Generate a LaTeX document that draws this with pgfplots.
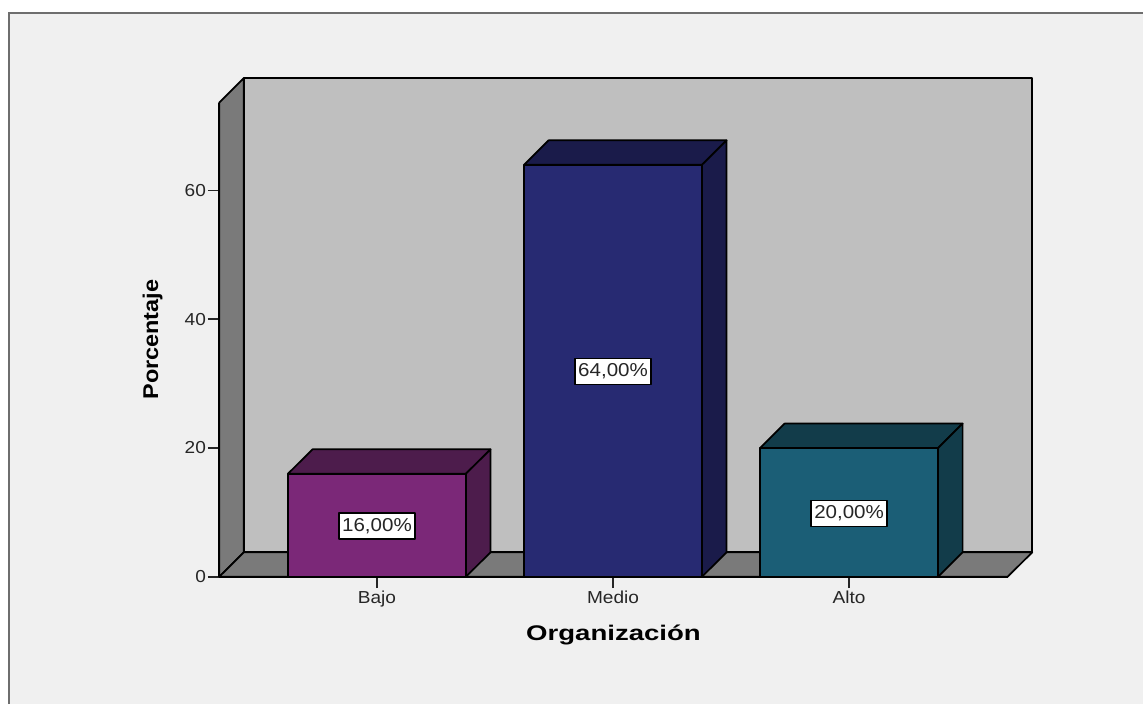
\documentclass[border=0pt]{standalone}
\usepackage{pgfplots}
\usepackage{fontspec}
\pgfplotsset{compat=1.18}
\setmainfont[FakeStretch=1.1]{Liberation Sans}
\newfontfamily\titlewide[FakeStretch=1.3]{Liberation Sans}
\definecolor{panel}{HTML}{F0F0F0}
\definecolor{frameline}{HTML}{6E6E6E}
\definecolor{backwall}{HTML}{BFBFBF}
\definecolor{sidewall}{HTML}{7A7A7A}
\definecolor{bajoF}{HTML}{7B2878}
\definecolor{bajoD}{HTML}{4D1C4C}
\definecolor{medioF}{HTML}{272A72}
\definecolor{medioD}{HTML}{1A1B4A}
\definecolor{altoF}{HTML}{1B5E76}
\definecolor{altoD}{HTML}{123C4A}
\begin{document}
\begin{tikzpicture}[x=0.75pt,y=0.75pt]
  % page background and the panel's frame
  \path[use as bounding box] (0,0) rectangle (1143,704);
  \fill[white] (0,0) rectangle (1143,704);
  \fill[panel] (8.5,0) rectangle (1143,690.5);
  \draw[frameline,line width=1.5pt] (8.5,0) -- (8.5,690.5) -- (1143,690.5);
  \begin{axis}[
    at={(164.475pt,95.475pt)}, anchor=south west,
    scale only axis, width=591.3pt, height=355.65pt,
    xmin=-0.668, xmax=2.672, ymin=0, ymax=73.67,
    clip=false,
    axis x line=bottom, axis y line=left,
    axis line style={-, line width=1.3pt, black},
    xtick={0,1,2}, xticklabels={Bajo,Medio,Alto},
    ytick={0,20,40,60},
    tick align=outside, major tick length=8.5pt,
    tick style={line width=1.3pt, black!85},
    tick label style={font=\fontsize{13}{15}\selectfont, text=black!85},
    xticklabel style={yshift=1.7pt},
    yticklabel style={xshift=2pt},
    /pgf/number format/assume math mode=true,
    xlabel={\titlewide\bfseries Organización},
    ylabel={\bfseries Porcentaje},
    every axis x label/.style={at={(axis description cs:0.5,-0.1235)},anchor=center,font=\fontsize{15.9}{18}\selectfont},
    every axis y label/.style={at={(axis description cs:-0.0845,0.5)},anchor=center,rotate=90,font=\fontsize{16}{18}\selectfont},
    every axis plot/.append style={line width=1.3pt, line join=round},
  ]
    % back wall, floor and left wall of the box
    \addplot[draw=black, fill=backwall] coordinates {(-0.564,3.79) (2.776,3.79) (2.776,77.46) (-0.564,77.46)} -- cycle;
    \addplot[draw=black, fill=sidewall] coordinates {(-0.668,0) (-0.564,3.79) (-0.564,77.46) (-0.668,73.67)} -- cycle;
    \addplot[draw=black, fill=sidewall] coordinates {(-0.668,0) (2.672,0) (2.776,3.79) (-0.564,3.79)} -- cycle;
    % Bajo
    \addplot[draw=black, fill=bajoD] coordinates {(-0.377,16) (0.377,16) (0.481,19.79) (-0.273,19.79)} -- cycle;
    \addplot[draw=black, fill=bajoD] coordinates {(0.377,0) (0.481,3.79) (0.481,19.79) (0.377,16)} -- cycle;
    \addplot[ybar, bar width=0.754, bar shift=0pt, draw=black, fill=bajoF] coordinates {(0,16)};
    % Medio
    \addplot[draw=black, fill=medioD] coordinates {(0.623,64) (1.377,64) (1.481,67.79) (0.727,67.79)} -- cycle;
    \addplot[draw=black, fill=medioD] coordinates {(1.377,0) (1.481,3.79) (1.481,67.79) (1.377,64)} -- cycle;
    \addplot[ybar, bar width=0.754, bar shift=0pt, draw=black, fill=medioF] coordinates {(1,64)};
    % Alto
    \addplot[draw=black, fill=altoD] coordinates {(1.623,20) (2.377,20) (2.481,23.79) (1.727,23.79)} -- cycle;
    \addplot[draw=black, fill=altoD] coordinates {(2.377,0) (2.481,3.79) (2.481,23.79) (2.377,20)} -- cycle;
    \addplot[ybar, bar width=0.754, bar shift=0pt, draw=black, fill=altoF] coordinates {(2,20)};
    % value labels at mid-height of each bar
    \addplot[draw=none, mark=none, point meta=explicit,
      nodes near coords={\pgfmathprintnumber[assume math mode=true,fixed,fixed zerofill,precision=2,use comma]{\pgfplotspointmeta}\%},
      every node near coord/.append style={anchor=center, fill=white, draw=black, line width=1.1pt,
        inner sep=0pt, minimum width=57pt, minimum height=19.5pt, text=black!85, yshift=-0.7pt,
        font=\fontsize{14}{15}\selectfont}]
      coordinates {(0,8) [16] (1,32) [64] (2,10) [20]};
  \end{axis}
\end{tikzpicture}
\end{document}
